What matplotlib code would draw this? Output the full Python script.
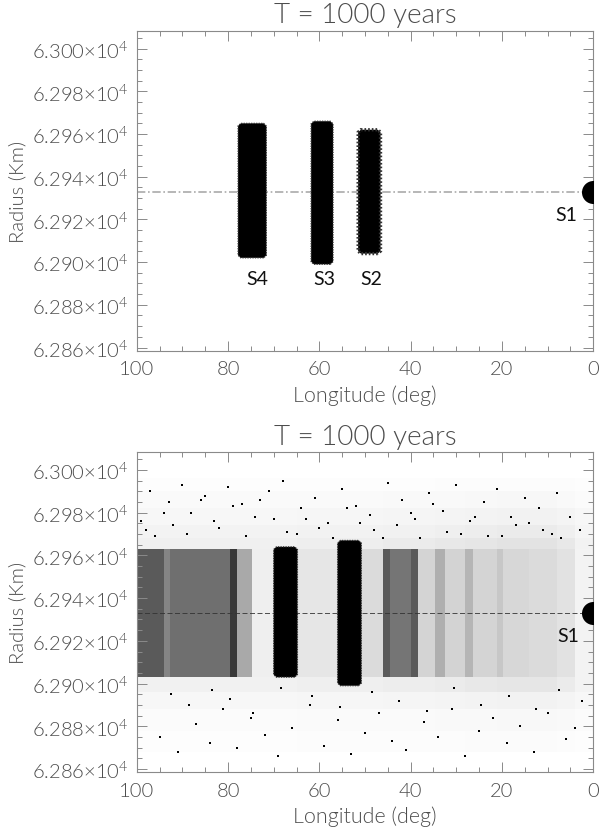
import matplotlib
matplotlib.use('Agg')
import matplotlib.pyplot as plt
import numpy as np
from matplotlib.ticker import MultipleLocator, FuncFormatter

plt.rcParams['font.family'] = ['Lato', 'DejaVu Sans']
plt.rcParams['font.weight'] = 300
plt.rcParams['axes.labelweight'] = 300
plt.rcParams['axes.titleweight'] = 300
plt.rcParams['mathtext.fontset'] = 'custom'
plt.rcParams['mathtext.rm'] = 'Lato:weight=300'
plt.rcParams['mathtext.default'] = 'rm'

TITLE = 'T = 1000 years'
XLABEL = 'Longitude (deg)'
YLABEL = 'Radius (Km)'
X_TICKS = [100, 80, 60, 40, 20, 0]
Y_TICKS = [62860, 62880, 62900, 62920, 62940, 62960, 62980, 63000]
MEAN_RADIUS = 62933
S1_LON, S1_RADIUS = 0, 62933

# Top panel: swarm extents
top_names = ['S4', 'S3', 'S2']
top_lon_low = [71.6, 57.0, 46.6]
top_lon_high = [77.8, 61.8, 51.5]
top_r_low = [62902, 62899, 62904]
top_r_high = [62965, 62966, 62962]
top_edge = [0.9, 0.9, 2.4]
top_label_lon = [73.7, 58.8, 48.7]
top_label_r = [62892.5, 62892.5, 62892.5]
S1_label_lon, S1_label_r = 5.9, 62922.5

# Bottom panel: black swarms
bot_lon_low = [64.8, 50.8]
bot_lon_high = [70.0, 56.0]
bot_r_low = [62903, 62899]
bot_r_high = [62964, 62967]

# Bottom panel: point density (0 = empty, 1 = black)
lon_edges = [100, 94, 92.6, 79.5, 78, 74.7, 70, 64.8, 56, 50.8, 46, 44.5, 40, 38.5,
             34.6, 32.5, 28, 26.3, 21, 19.7, 14, 8, 4, 0]
inner_density = [0.72, 0.56, 0.64, 0.82, 0.44, 0.13, 0.14, 0.18, 0.20, 0.24, 0.72,
                 0.62, 0.72, 0.27, 0.42, 0.28, 0.40, 0.27, 0.33, 0.26, 0.24, 0.20, 0.10]
outer_scale = [0.9, 0.9, 0.9, 0.9, 0.9, 0.9, 0.9, 1.0, 1.0, 1.0, 1.1, 1.1, 1.1, 1.1,
               1.2, 1.2, 1.3, 1.3, 1.4, 1.4, 1.4, 1.2, 0.8]
radius_edges = [62858.6, 62868, 62878, 62888, 62896, 62903, 62963, 62968, 62974, 62982, 62990, 62996, 63008.4]
outer_density = [0.0, 0.025, 0.04, 0.08, 0.13, None, 0.14, 0.11, 0.08, 0.045, 0.02, 0.0]

# Bottom panel: isolated points in the sparse outskirts (estimated)
speck_lon = [97, 93, 90, 88, 85, 83, 80, 77, 74, 71, 68, 64, 61, 58, 55, 52, 49, 45, 42, 39,
             36, 33, 30, 27, 24, 21, 18, 15, 12, 8, 95, 91, 87, 84, 81, 78, 75, 72, 69, 66,
             62, 59, 56, 53, 50, 47, 44, 41, 37, 34, 31, 28, 25, 22, 19, 16, 13, 10, 6, 4,
             98, 94, 89, 86, 82, 76, 73, 67, 63, 57, 54, 48, 43, 38, 35, 29, 26, 20, 17, 11,
             99, 96, 92, 79, 70, 65, 60, 51, 46, 40, 32, 23, 14, 9, 7, 5, 3,
             92.5, 88.5, 83.5, 79.5, 74.5, 68.5, 61.5, 55.5, 48.5, 42.5, 36.5, 30.5, 24.5, 18.5, 12.5, 7.5, 2.5]
speck_r = [62990, 62985, 62993, 62980, 62988, 62976, 62992, 62984, 62978, 62990, 62995, 62982, 62987, 62975,
           62991, 62983, 62979, 62994, 62986, 62977, 62989, 62981, 62993, 62976, 62985, 62991, 62978, 62987, 62982, 62989,
           62875, 62868, 62881, 62872, 62888, 62870, 62884, 62876, 62866, 62879, 62890, 62871, 62883, 62867, 62877,
           62886, 62873, 62869, 62882, 62875, 62888, 62866, 62878, 62884, 62872, 62880, 62868, 62886, 62874, 62879,
           62972, 62980, 62970, 62986, 62973, 62969, 62986, 62971, 62977, 62968, 62982, 62972, 62974, 62968, 62984,
           62970, 62978, 62969, 62974, 62972,
           62976, 62969, 62974, 62983, 62977, 62970, 62973, 62975, 62968, 62980, 62971, 62969, 62975, 62970, 62968, 62978, 62972,
           62895, 62890, 62897, 62893, 62886, 62898, 62894, 62889, 62896, 62892, 62887, 62898, 62890, 62894, 62888, 62897, 62892]

TEXT = '#4d4d4d'
AXIS = '#8a8a8a'
W, H = 600, 829


def fmt(v, _):
    return f'{v / 1e4:.3f}×10$^{{4}}$'


def setup(ax):
    ax.set_xlim(100, 0)
    ax.set_ylim(62858.6, 63008.4)
    ax.set_xticks(X_TICKS)
    ax.set_yticks(Y_TICKS)
    ax.xaxis.set_minor_locator(MultipleLocator(5))
    ax.yaxis.set_minor_locator(MultipleLocator(5))
    ax.yaxis.set_major_formatter(FuncFormatter(fmt))
    ax.tick_params(which='major', direction='in', length=7, width=0.7, color=AXIS,
                   top=True, right=True, labelsize=14.5, labelcolor=TEXT, pad=6)
    ax.tick_params(axis='x', which='major', pad=7)
    ax.tick_params(which='minor', direction='in', length=3.6, width=0.7, color=AXIS,
                   top=True, right=True)
    for s in ax.spines.values():
        s.set_color(AXIS)
        s.set_linewidth(0.8)
    ax.set_title(TITLE, fontsize=20, color=TEXT, pad=6)
    ax.set_xlabel(XLABEL, fontsize=15.5, color=TEXT, labelpad=5)
    ax.set_ylabel(YLABEL, fontsize=14.5, color=TEXT, labelpad=4)


def swarm(ax, lo, hi, rlo, rhi, edge=0.9, cut=0.6, rcut=1.2):
    xs = [lo + cut, hi - cut, hi, hi, hi - cut, lo + cut, lo, lo]
    ys = [rlo, rlo, rlo + rcut, rhi - rcut, rhi, rhi, rhi - rcut, rlo + rcut]
    ax.fill(xs, ys, facecolor='black', edgecolor='#333333', linewidth=edge,
            linestyle=(0, (0.5, 0.6)) if edge > 1 else (0, (1, 1)), zorder=3)


fig = plt.figure(figsize=(W / 100, H / 100), dpi=100)
ax1 = fig.add_axes([136.7 / W, 1 - 351.5 / H, 456.6 / W, 319.8 / H])
ax2 = fig.add_axes([136.7 / W, 1 - 773.0 / H, 456.6 / W, 320.0 / H])

# --- top
setup(ax1)
ax1.plot([100, 0], [MEAN_RADIUS, MEAN_RADIUS], color='#aaaaaa', lw=1.2,
         linestyle=(0, (5, 1.6, 1, 1.6)), zorder=1)
for lo, hi, a, b, e in zip(top_lon_low, top_lon_high, top_r_low, top_r_high, top_edge):
    swarm(ax1, lo, hi, a, b, e)
for name, lo, r in zip(top_names, top_label_lon, top_label_r):
    ax1.text(lo, r, name, fontsize=14, color='#111111', ha='center', va='center', fontweight='normal')
ax1.scatter([S1_LON], [S1_RADIUS], s=275, color='black', zorder=4, clip_on=True, linewidths=0)
ax1.text(S1_label_lon, S1_label_r, 'S1', fontsize=14, color='#111111', ha='center', va='center', fontweight='normal')

# --- bottom
setup(ax2)
grid = np.zeros((len(radius_edges) - 1, len(lon_edges) - 1))
for i in range(grid.shape[0]):
    for j in range(grid.shape[1]):
        if outer_density[i] is None:
            grid[i, j] = inner_density[j]
        else:
            grid[i, j] = outer_density[i] * outer_scale[j]
ax2.pcolormesh(lon_edges, radius_edges, grid, cmap='Greys', vmin=0, vmax=1, zorder=1,
               shading='flat', linewidth=0, rasterized=True)
ax2.plot([100, 0], [MEAN_RADIUS, MEAN_RADIUS], color='#333333', lw=0.6,
         linestyle=(0, (6, 3)), zorder=2)
for lo, hi, a, b in zip(bot_lon_low, bot_lon_high, bot_r_low, bot_r_high):
    swarm(ax2, lo, hi, a, b)
ax2.scatter(speck_lon, speck_r, s=1.2, color='black', marker='s', linewidths=0, zorder=2)
ax2.scatter([S1_LON], [S1_RADIUS], s=275, color='black', zorder=4, clip_on=True, linewidths=0)
ax2.text(S1_label_lon - 0.5, S1_label_r, 'S1', fontsize=14, color='#111111', ha='center', va='center', fontweight='normal')

fig.savefig('out.png', dpi=100)
